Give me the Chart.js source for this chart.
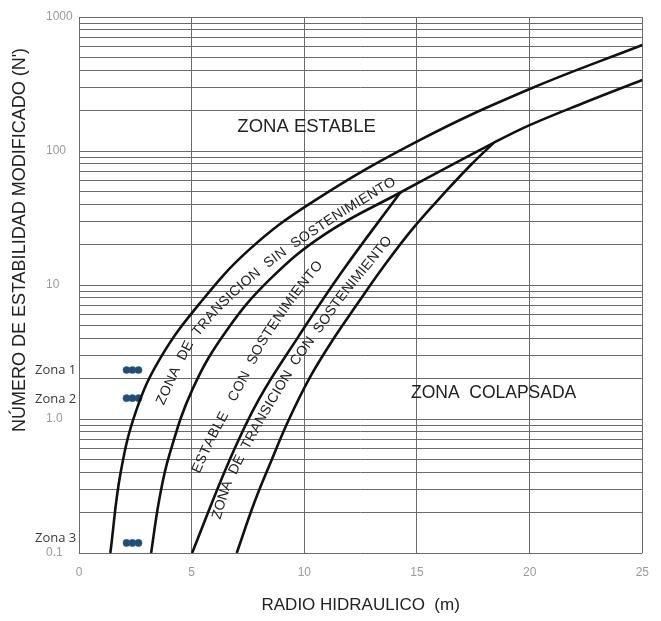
<!DOCTYPE html>
<html>
<head>
<meta charset="utf-8">
<script src="https://cdn.jsdelivr.net/npm/chart.js@4.4.0/dist/chart.umd.min.js"></script>
<style>
  html, body { margin: 0; padding: 0; background: #fff; }
  #wrap { width: 661px; height: 621px; }
</style>
</head>
<body>
<div id="wrap"><canvas id="chart" width="661" height="621"></canvas></div>
<script>
// curvas del abaco (radio hidraulico vs N')
const curveAX = [1.39, 1.85, 2.55, 3.61, 5.33, 7.53, 10.3, 15.14, 20.0, 25];
const curveAY = [0.1, 0.4, 1.17, 2.85, 7.2, 18.2, 41, 121, 290, 618];

const curveBX = [3.2, 3.56, 4.01, 5.06, 6.56, 8.49, 10.92, 14.26, 18.4, 20.0, 22.5, 25];
const curveBY = [0.1, 0.25, 0.54, 1.7, 4.6, 11.1, 24.0, 49, 115, 156, 232, 339];

const curveCX = [5.02, 6.65, 7.97, 9.73, 11.66, 14.26];
const curveCY = [0.1, 0.48, 1.39, 4.1, 12.5, 49];

const curveDX = [7.0, 7.79, 8.54, 9.29, 10.26, 11.31, 12.37, 13.47, 14.83, 16.33, 17.43, 18.4];
const curveDY = [0.1, 0.24, 0.49, 0.97, 2.06, 4.0, 7.3, 13.4, 26.6, 51, 80, 115];

// puntos de las zonas
const zoneNames = ['Zona 1', 'Zona 2', 'Zona 3'];
const zoneLabelValues = [2.32, 1.41, 0.129];
const zoneDotX = [2.11, 2.37, 2.64];
const zoneDotY = [2.32, 1.43, 0.119];

// ejes
const xTicks = [0, 5, 10, 15, 20, 25];
const yGridTicks = [
  0.1, 0.2, 0.3, 0.4, 0.5, 0.6, 0.7, 0.8, 0.9,
  1, 2, 3, 4, 5, 6, 7, 8, 9,
  10, 20, 30, 40, 50, 60, 70, 80, 90,
  100, 200, 300, 400, 500, 600, 700, 800, 900,
  1000
];
const yLabelValues = [0.1, 1, 10, 100, 1000];
const yLabelTexts = ['0.1', '1.0', '10', '100', '1000'];

// textos dentro del grafico
const zoneTitles = ['ZONA ESTABLE', 'ZONA  COLAPSADA'];
const zoneTitleX = [10.1, 18.4];
const zoneTitleY = [151, 1.56];

const bandTexts = [
  'ZONA  DE  TRANSICION  SIN  SOSTENIMIENTO',
  'ESTABLE   CON  SOSTENIMIENTO',
  'ZONA  DE  TRANSICION  CON  SOSTENIMIENTO'
];
const bandPathX = [
  [3.61, 4.27, 4.97, 5.99, 7.09, 8.41, 9.42, 11.49, 14.0],
  [5.19, 5.85, 6.56, 7.31, 8.05, 8.85, 9.73, 10.7],
  [6.1, 6.56, 7.22, 8.05, 8.85, 9.64, 10.6, 11.7, 12.8, 13.78]
];
const bandPathY = [
  [1.29, 2.28, 3.89, 6.3, 9.5, 14.6, 19.5, 33.3, 60],
  [0.40, 0.70, 1.17, 2.02, 3.56, 5.7, 9.2, 14.6],
  [0.18, 0.32, 0.54, 0.98, 1.64, 2.75, 4.6, 8.4, 14.1, 22.4]
];

const toPoints = (xs, ys) => xs.map((x, i) => ({ x: x, y: ys[i] }));

const curveStyle = {
  showLine: true,
  borderColor: '#111',
  borderWidth: 2.6,
  pointRadius: 0,
  tension: 0.4,
  fill: false
};

const datasets = [
  Object.assign({ label: 'A', data: toPoints(curveAX, curveAY) }, curveStyle),
  Object.assign({ label: 'B', data: toPoints(curveBX, curveBY) }, curveStyle),
  Object.assign({ label: 'C', data: toPoints(curveCX, curveCY) }, curveStyle),
  Object.assign({ label: 'D', data: toPoints(curveDX, curveDY) }, curveStyle)
];
zoneDotY.forEach((yv, i) => {
  datasets.push({
    label: zoneNames[i],
    data: zoneDotX.map(xv => ({ x: xv, y: yv })),
    showLine: false,
    pointRadius: 3.6,
    pointBackgroundColor: '#1f4e7a',
    pointBorderColor: '#2a5c8c',
    pointBorderWidth: 0.5
  });
});

const FONT = '"Liberation Sans", Arial, sans-serif';

// texto a lo largo de una polilinea
function textOnPath(ctx, text, pts, size) {
  ctx.font = size + 'px ' + FONT;
  const segs = [];
  let total = 0;
  for (let i = 1; i < pts.length; i++) {
    const dx = pts[i].x - pts[i - 1].x, dy = pts[i].y - pts[i - 1].y;
    const l = Math.hypot(dx, dy);
    segs.push({ x: pts[i - 1].x, y: pts[i - 1].y, dx, dy, l, start: total });
    total += l;
  }
  function pointAt(d) {
    d = Math.max(0, Math.min(total, d));
    let s = segs[segs.length - 1];
    for (const sg of segs) { if (d <= sg.start + sg.l) { s = sg; break; } }
    const t = (d - s.start) / s.l;
    return { x: s.x + s.dx * t, y: s.y + s.dy * t };
  }
  const chars = Array.from(text);
  const widths = chars.map(c => ctx.measureText(c).width);
  const natural = widths.reduce((a, b) => a + b, 0);
  const gap = chars.length > 1 ? (total - natural) / (chars.length - 1) : 0;
  let d = 0;
  chars.forEach((c, i) => {
    const mid = d + widths[i] / 2;
    const p = pointAt(mid);
    const p0 = pointAt(mid - 6), p1 = pointAt(mid + 6);
    ctx.save();
    ctx.translate(p.x, p.y);
    ctx.rotate(Math.atan2(p1.y - p0.y, p1.x - p0.x));
    ctx.textAlign = 'center';
    ctx.textBaseline = 'middle';
    ctx.fillText(c, 0, 0);
    ctx.restore();
    d += widths[i] + gap;
  });
}

const annotations = {
  id: 'annotations',
  afterDatasetsDraw(chart) {
    const ctx = chart.ctx;
    const xs = chart.scales.x, ys = chart.scales.y;
    ctx.save();
    ctx.fillStyle = '#222';
    ctx.textAlign = 'center';
    ctx.textBaseline = 'middle';
    ctx.font = '18.5px ' + FONT;
    ctx.fillText(zoneTitles[0], xs.getPixelForValue(zoneTitleX[0]), ys.getPixelForValue(zoneTitleY[0]));
    ctx.font = '17.5px ' + FONT;
    ctx.fillText(zoneTitles[1], xs.getPixelForValue(zoneTitleX[1]), ys.getPixelForValue(zoneTitleY[1]));
    bandTexts.forEach((t, i) => {
      const pts = bandPathX[i].map((xv, j) => ({
        x: xs.getPixelForValue(xv),
        y: ys.getPixelForValue(bandPathY[i][j])
      }));
      textOnPath(ctx, t, pts, 14);
    });
    ctx.restore();
  },
  afterDraw(chart) {
    const ctx = chart.ctx;
    ctx.save();
    ctx.fillStyle = '#222';
    ctx.font = '18px ' + FONT;
    ctx.textAlign = 'center';
    ctx.textBaseline = 'middle';
    ctx.translate(20, 240);
    ctx.rotate(-Math.PI / 2);
    ctx.fillText("NÚMERO DE ESTABILIDAD MODIFICADO (N')", 0, 0);
    ctx.restore();
  }
};

const gridColor = '#6a6a6a';

new Chart(document.getElementById('chart'), {
  type: 'scatter',
  data: { datasets: datasets },
  plugins: [annotations],
  options: {
    responsive: false,
    animation: false,
    layout: { padding: { left: 0, right: 14, top: 17, bottom: 0 } },
    plugins: { legend: { display: false }, tooltip: { enabled: false } },
    scales: {
      x: {
        type: 'linear',
        min: 0,
        max: 25,
        afterBuildTicks: s => { s.ticks = xTicks.map(v => ({ value: v })); },
        afterFit: s => { s.height = 68; },
        grid: { color: gridColor, lineWidth: 1, drawTicks: false },
        border: { display: false },
        ticks: {
          padding: 12,
          color: '#9a9a9a',
          font: { family: FONT, size: 12 }
        },
        title: {
          display: true,
          text: 'RADIO HIDRAULICO  (m)',
          color: '#222',
          font: { family: FONT, size: 17 },
          padding: { top: 0, bottom: 5 }
        }
      },
      y: {
        type: 'logarithmic',
        position: 'left',
        weight: 0,
        min: 0.1,
        max: 1000,
        afterBuildTicks: s => { s.ticks = yGridTicks.map(v => ({ value: v })); },
        afterFit: s => { s.width = 33; },
        grid: { color: gridColor, lineWidth: 1, drawTicks: false },
        border: { display: false },
        ticks: {
          autoSkip: false,
          crossAlign: 'far',
          color: '#9a9a9a',
          font: { family: FONT, size: 12 },
          callback: v => {
            const i = yLabelValues.indexOf(v);
            return i >= 0 ? yLabelTexts[i] : '';
          }
        }
      },
      yz: {
        type: 'logarithmic',
        position: 'left',
        weight: 1,
        min: 0.1,
        max: 1000,
        afterBuildTicks: s => { s.ticks = zoneLabelValues.map(v => ({ value: v })); },
        afterFit: s => { s.width = 46; },
        grid: { display: false, drawTicks: false },
        border: { display: false },
        ticks: {
          autoSkip: false,
          mirror: true,
          crossAlign: 'near',
          padding: -11,
          color: '#3a3a3a',
          font: { family: '"Open Sans", sans-serif', size: 13 },
          callback: v => {
            const i = zoneLabelValues.indexOf(v);
            return i >= 0 ? zoneNames[i] : '';
          }
        }
      }
    }
  }
});
</script>
</body>
</html>
